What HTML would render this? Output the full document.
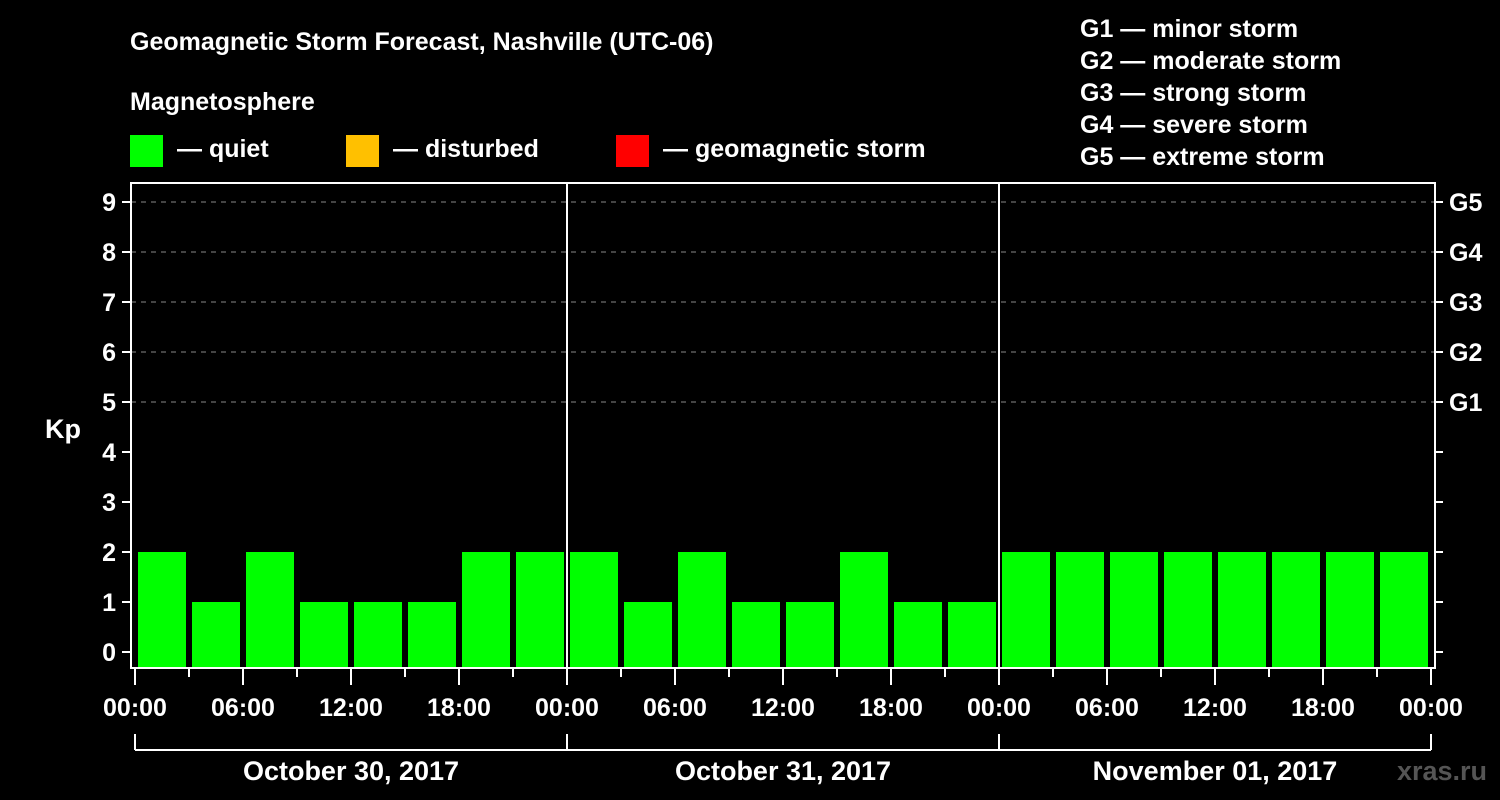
<!DOCTYPE html>
<html><head><meta charset="utf-8"><style>
body{margin:0;background:#000;}
svg{display:block;font-family:"Liberation Sans",Arial,sans-serif;font-weight:bold;}
</style></head><body>
<svg width="1500" height="800" viewBox="0 0 1500 800">
<text x="130" y="50" fill="#fff" font-size="25">Geomagnetic Storm Forecast, Nashville (UTC-06)</text>
<text x="130" y="110" fill="#fff" font-size="25">Magnetosphere</text>
<g>
<rect x="130" y="135" width="33" height="32" fill="#00ff00"/>
<text x="177" y="157" fill="#fff" font-size="25">— quiet</text>
<rect x="346" y="135" width="33" height="32" fill="#ffc000"/>
<text x="393" y="157" fill="#fff" font-size="25">— disturbed</text>
<rect x="616" y="135" width="33" height="32" fill="#ff0000"/>
<text x="663" y="157" fill="#fff" font-size="25">— geomagnetic storm</text>
</g>
<g fill="#fff" font-size="25">
<text x="1080" y="37">G1 — minor storm</text>
<text x="1080" y="69">G2 — moderate storm</text>
<text x="1080" y="101">G3 — strong storm</text>
<text x="1080" y="133">G4 — severe storm</text>
<text x="1080" y="165">G5 — extreme storm</text>
</g>
<text x="63" y="438" fill="#fff" font-size="27" text-anchor="middle">Kp</text>
<g id="plot"></g>
<text x="1487" y="780" fill="#555" font-size="27" text-anchor="end">xras.ru</text>
</svg>
<script>
const kpValues=[2,1,2,1,1,1,2,2, 2,1,2,1,1,2,1,1, 2,2,2,2,2,2,2,2];
const yTicks=[0,1,2,3,4,5,6,7,8,9];
const gLabels=[[5,'G1'],[6,'G2'],[7,'G3'],[8,'G4'],[9,'G5']];
const xTickLabels=['00:00','06:00','12:00','18:00','00:00','06:00','12:00','18:00','00:00','06:00','12:00','18:00','00:00'];
const dayLabels=['October 30, 2017','October 31, 2017','November 01, 2017'];
const NS='http://www.w3.org/2000/svg';
const g=document.getElementById('plot');
const L=131,R=1435,T=183,B=668,X0=135,HOUR=18;
const y=v=>652-50*v;
const x=h=>X0+HOUR*h;
function mk(t,a){const e=document.createElementNS(NS,t);for(const k in a)e.setAttribute(k,a[k]);g.appendChild(e);return e;}
yTicks.forEach(v=>{
 if(v>=5){const l=mk('line',{x1:L,x2:R,y1:y(v),y2:y(v),stroke:'#888','stroke-dasharray':'5,5','stroke-width':1});
 
 }
 mk('line',{x1:122,x2:L,y1:y(v),y2:y(v),stroke:'#fff','stroke-width':2});
 mk('line',{x1:R,x2:1443,y1:y(v),y2:y(v),stroke:'#fff','stroke-width':2});
 const t=mk('text',{x:116,y:y(v)+9,fill:'#fff','font-size':25,'text-anchor':'end'});t.textContent=v;
 
 
});
gLabels.forEach(([v,s])=>{const t=mk('text',{x:1449,y:y(v)+9,fill:'#fff','font-size':25});t.textContent=s;
 
 });
kpValues.forEach((v,i)=>{
 const col=v>=5?'#ff0000':(v>=4?'#ffc000':'#00ff00');
 const r=mk('rect',{x:x(3*i)+3,y:y(v),width:48,height:B-y(v),fill:col});
 
 
});
for(let d=1;d<3;d++)mk('line',{x1:x(24*d),x2:x(24*d),y1:T,y2:B,stroke:'#fff','stroke-width':2});
const ax=mk('rect',{x:L,y:T,width:R-L,height:B-T,fill:'none',stroke:'#fff','stroke-width':2});


for(let h=0;h<=72;h+=3){const maj=h%6==0;mk('line',{x1:x(h),x2:x(h),y1:B,y2:maj?685:677,stroke:'#fff','stroke-width':2});}
xTickLabels.forEach((s,i)=>{const t=mk('text',{x:x(6*i),y:716,fill:'#fff','font-size':25,'text-anchor':'middle'});t.textContent=s;
 
 });
mk('line',{x1:x(0),x2:x(72),y1:750,y2:750,stroke:'#fff','stroke-width':2});
for(let d=0;d<=3;d++)mk('line',{x1:x(24*d),x2:x(24*d),y1:734,y2:750,stroke:'#fff','stroke-width':2});
dayLabels.forEach((s,i)=>{const t=mk('text',{x:x(24*i+12),y:780,fill:'#fff','font-size':27,'text-anchor':'middle'});t.textContent=s;
 
 });
</script>
</body></html>
